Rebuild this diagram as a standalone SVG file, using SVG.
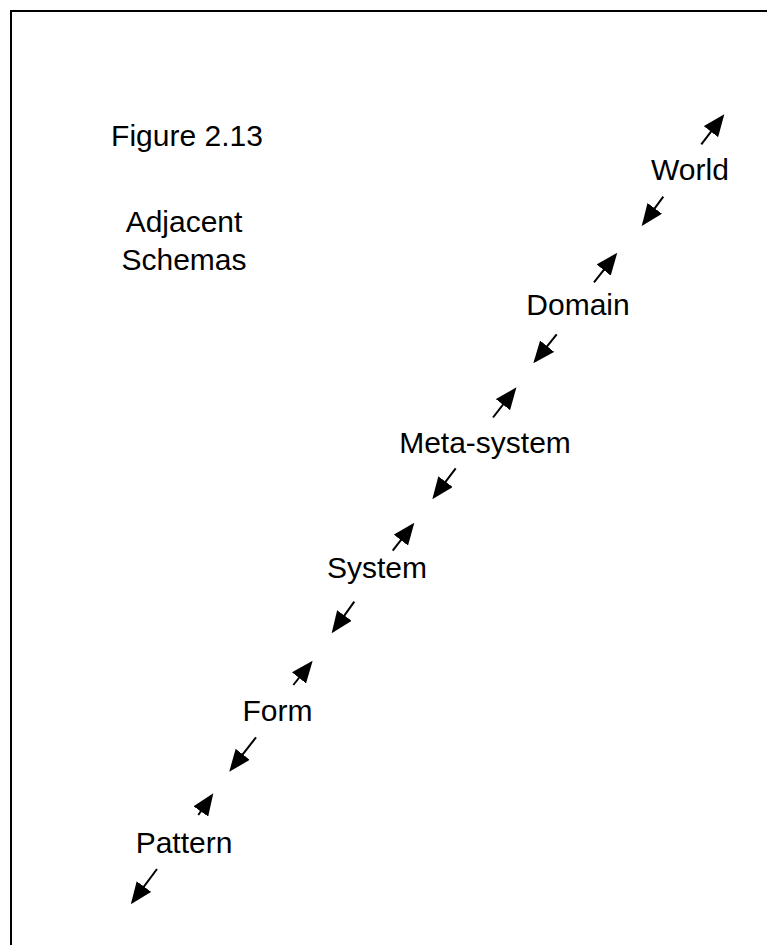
<svg xmlns="http://www.w3.org/2000/svg" width="767" height="945" viewBox="0 0 767 945">
  <style>
    .lbl { font-family: "Liberation Sans", Arial, sans-serif; font-size: 30px; fill: #000; text-anchor: middle; }
    .arr { stroke: #000; stroke-width: 2; fill: none; marker-end: url(#head); }
  </style>
  <defs>
    <marker id="head" viewBox="0 0 22 18" refX="19" refY="9" markerWidth="22" markerHeight="18" markerUnits="userSpaceOnUse" orient="auto">
      <path d="M0,0 L22,9 L0,18 Z" fill="#000"/>
    </marker>
  </defs>
  <rect width="767" height="945" fill="#fff"/>
  <!-- frame: top and left edges -->
  <path d="M11,945 V11 H767" fill="none" stroke="#000" stroke-width="2"/>

  <g id="title">
    <text class="lbl" x="187" y="146">Figure 2.13</text>
    <text class="lbl" x="184" y="232">Adjacent</text>
    <text class="lbl" x="184" y="270">Schemas</text>
  </g>

  <g id="world"><text class="lbl" x="690" y="180">World</text></g>
  <g id="domain"><text class="lbl" x="578" y="315">Domain</text></g>
  <g id="meta-system"><text class="lbl" x="485" y="453">Meta-system</text></g>
  <g id="system"><text class="lbl" x="377" y="578">System</text></g>
  <g id="form"><text class="lbl" x="277.5" y="721">Form</text></g>
  <g id="pattern"><text class="lbl" x="184" y="853">Pattern</text></g>

  <g id="connectors">
    <!-- upward arrows -->
    <line class="arr" x1="701.3" y1="144.3" x2="722.5" y2="116.6"/>
    <line class="arr" x1="594" y1="282.3" x2="615.4" y2="255.1"/>
    <line class="arr" x1="493" y1="417.5" x2="514.6" y2="389.7"/>
    <line class="arr" x1="392.7" y1="550.7" x2="412.5" y2="525.1"/>
    <line class="arr" x1="293.3" y1="685" x2="310.8" y2="663"/>
    <line class="arr" x1="198.3" y1="815" x2="211.6" y2="795.8"/>
    <!-- downward arrows -->
    <line class="arr" x1="663.3" y1="196.7" x2="643.5" y2="223.6"/>
    <line class="arr" x1="556.7" y1="334.3" x2="535.2" y2="361"/>
    <line class="arr" x1="455.7" y1="468.3" x2="434.1" y2="496.9"/>
    <line class="arr" x1="354.3" y1="601.7" x2="333.4" y2="630.9"/>
    <line class="arr" x1="256" y1="737.3" x2="231.1" y2="769.3"/>
    <line class="arr" x1="157" y1="869" x2="132.6" y2="901.8"/>
  </g>
</svg>
